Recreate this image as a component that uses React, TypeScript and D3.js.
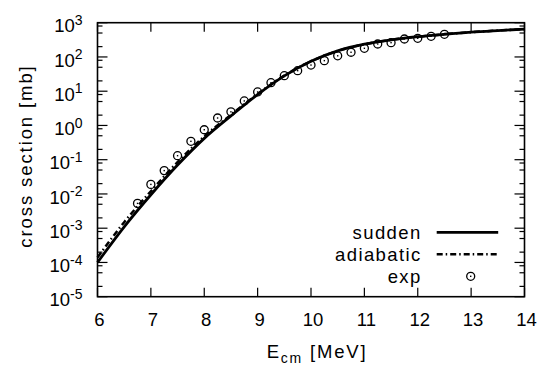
import React from 'react';
import * as d3 from 'd3';

// energies (MeV) for the two model curves
const energies = [6, 6.5, 7, 7.5, 8, 8.5, 9, 9.5, 10, 10.5, 11, 11.5, 12, 12.5, 13, 13.5, 14];
const sudden = [1.0e-4, 1.1e-3, 9.5e-3, 0.07, 0.42, 1.9, 8, 28, 75, 150, 235, 315, 390, 460, 530, 590, 650];
const adiabatic = [1.4e-4, 1.5e-3, 1.2e-2, 0.085, 0.48, 2.05, 8.3, 28.5, 75, 150, 235, 315, 390, 460, 530, 590, 650];

// experimental points
const expE = [6.75, 7.0, 7.25, 7.5, 7.75, 8.0, 8.25, 8.5, 8.75, 9.0, 9.25, 9.5, 9.75, 10.0, 10.25, 10.5, 10.75, 11.0, 11.25, 11.5, 11.75, 12.0, 12.25, 12.5];
const expSigma = [5.3e-3, 1.9e-2, 4.8e-2, 0.131, 0.344, 0.75, 1.65, 2.5, 5.2, 9.5, 17.7, 28.4, 39.7, 58, 78, 108, 137, 179, 239, 261, 334, 350, 401, 458];

const xTicks = [6, 7, 8, 9, 10, 11, 12, 13, 14];
const yExponents = [-5, -4, -3, -2, -1, 0, 1, 2, 3];
const minorMantissa = [2, 5, 8];

const legendItems = ['sudden', 'adiabatic', 'exp'];

const W = 546;
const H = 365;
const margin = { left: 97.5, right: 21.5, top: 22.7, bottom: 68.3 };
const FONT = '"Liberation Sans", Arial, Helvetica, sans-serif';
const DASHDOT = '6,3,1.5,3';

const ExpMarker = ({ tx, ty }: { tx: number; ty: number }) => (
  <g transform={`translate(${tx},${ty})`}>
    <circle r={4} fill="none" stroke="#000" strokeWidth={1.3} />
    <rect x={-0.7} y={-0.7} width={1.4} height={1.4} fill="#000" />
  </g>
);

const App = () => {
  const innerW = W - margin.left - margin.right;
  const innerH = H - margin.top - margin.bottom;

  const x = d3.scaleLinear().domain([6, 14]).range([0, innerW]);
  const y = d3.scaleLog().domain([1e-5, 1e3]).range([innerH, 0]);

  const line = d3.line<number>()
    .x((_, i) => x(energies[i]))
    .curve(d3.curveMonotoneX);
  const suddenPath = line.y(d => y(d))(sudden);
  const adiabaticPath = line.y(d => y(d))(adiabatic);

  const minorTicks: number[] = [];
  yExponents.slice(0, -1).forEach(e => {
    minorMantissa.forEach(m => minorTicks.push(m * Math.pow(10, e)));
  });

  const legendX = 421.7 - margin.left;
  const legendY = 232.3 - margin.top;
  const rowH = 22;

  return (
    <svg
      width={W}
      height={H}
      style={{ position: 'absolute', left: 0, top: 0, background: '#fff', fontFamily: FONT }}
    >
      <g transform={`translate(${margin.left},${margin.top})`}>
        {/* curves */}
        <path d={adiabaticPath || ''} fill="none" stroke="#000" strokeWidth={2.5} strokeDasharray={DASHDOT} />
        <path d={suddenPath || ''} fill="none" stroke="#000" strokeWidth={2.8} />

        {/* experimental points */}
        {expE.map((e, i) => (
          <ExpMarker key={`exp-${i}`} tx={x(e)} ty={y(expSigma[i])} />
        ))}

        {/* x ticks (bottom and top) */}
        {xTicks.map(t => (
          <g key={`xt-${t}`}>
            <line x1={x(t)} x2={x(t)} y1={innerH} y2={innerH - 9} stroke="#000" strokeWidth={1.2} />
            <line x1={x(t)} x2={x(t)} y1={0} y2={9} stroke="#000" strokeWidth={1.2} />
            <text x={x(t) + 2} y={innerH + 29.5} textAnchor="middle" fontSize={18.5}>{t}</text>
          </g>
        ))}

        {/* y major ticks with labels */}
        {yExponents.map(e => {
          const py = y(Math.pow(10, e));
          return (
            <g key={`yt-${e}`}>
              <line x1={0} x2={10} y1={py} y2={py} stroke="#000" strokeWidth={1.2} />
              <line x1={innerW} x2={innerW - 10} y1={py} y2={py} stroke="#000" strokeWidth={1.2} />
              <text x={-15} y={py + 9.6} textAnchor="end" fontSize={18.5}>
                10<tspan dy={-7.3} fontSize={14}>{e < 0 ? `-${-e}` : e}</tspan>
              </text>
            </g>
          );
        })}

        {/* y minor ticks */}
        {minorTicks.map((v, i) => (
          <g key={`ym-${i}`}>
            <line x1={0} x2={5} y1={y(v)} y2={y(v)} stroke="#000" strokeWidth={1.2} />
            <line x1={innerW} x2={innerW - 5} y1={y(v)} y2={y(v)} stroke="#000" strokeWidth={1.2} />
          </g>
        ))}

        {/* frame */}
        <rect x={0} y={0} width={innerW} height={innerH} fill="none" stroke="#000" strokeWidth={1.6} />

        {/* legend */}
        {legendItems.map((name, i) => (
          <text key={name} x={legendX} y={legendY + i * rowH + 6.8} textAnchor="end" fontSize={18.5} letterSpacing={1.4}>
            {name}
          </text>
        ))}
        <line x1={legendX + 15} x2={legendX + 76.5} y1={legendY} y2={legendY} stroke="#000" strokeWidth={2.8} />
        <line x1={legendX + 15} x2={legendX + 76.5} y1={legendY + rowH} y2={legendY + rowH} stroke="#000" strokeWidth={2.5} strokeDasharray={DASHDOT} />
        <ExpMarker tx={legendX + 49} ty={legendY + 2 * rowH} />

        {/* axis titles */}
        <text x={317 - margin.left} y={358 - margin.top} textAnchor="middle" fontSize={18.5} letterSpacing={1.8}>
          E<tspan dy={5} fontSize={14}>cm</tspan><tspan dy={-5}> [MeV]</tspan>
        </text>
        <text
          transform={`translate(${32 - margin.left},${156 - margin.top}) rotate(-90)`}
          textAnchor="middle"
          fontSize={18.5}
          letterSpacing={1.9}
        >
          cross section [mb]
        </text>
      </g>
    </svg>
  );
};

export default App;
